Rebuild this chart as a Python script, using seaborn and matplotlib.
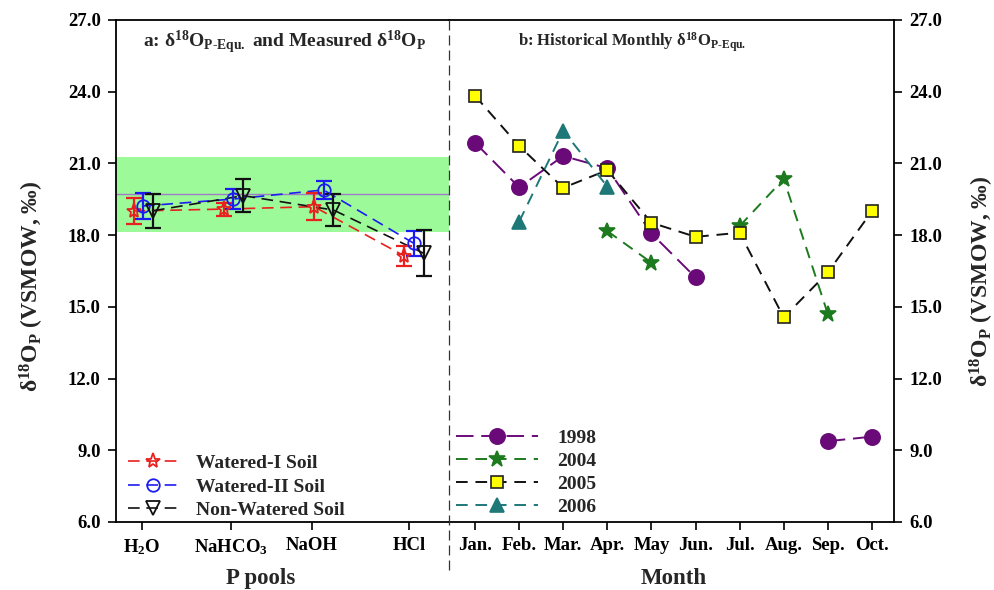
import numpy as np
import pandas as pd
import matplotlib
matplotlib.use("Agg")
import matplotlib.pyplot as plt
from matplotlib.lines import Line2D
import seaborn as sns

# ---------------- data ----------------
pools = ["H$_2$O", "NaHCO$_3$", "NaOH", "HCl"]
pool_pos = [1, 2, 3, 4]
pool_tick_pos = [0.99, 1.97, 2.87, 3.95]

w1_vals = [19.01, 19.09, 19.19, 17.13]
w1_err = [0.55, 0.27, 0.57, 0.43]
w2_vals = [19.22, 19.51, 19.89, 17.66]
w2_err = [0.53, 0.40, 0.36, 0.52]
nw_vals = [19.02, 19.65, 19.05, 17.24]
nw_err = [0.71, 0.69, 0.68, 0.96]

band_low, band_high = 18.13, 21.25
band_mid = 19.72

months = ["Jan.", "Feb.", "Mar.", "Apr.", "May", "Jun.", "Jul.", "Aug.", "Sep.", "Oct."]
month_pos = list(range(1, 11))
y1998 = [21.87, 20.00, 21.31, 20.80, 18.07, 16.23, np.nan, np.nan, 9.38, 9.57]
y2004 = [np.nan, np.nan, np.nan, 18.17, 16.85, np.nan, 18.38, 20.35, 14.70, np.nan]
y2005 = [23.83, 21.73, 19.98, 20.72, 18.52, 17.93, 18.10, 14.56, 16.44, 19.00]
y2006 = [np.nan, 18.56, 22.37, 20.03, np.nan, np.nan, np.nan, np.nan, np.nan, np.nan]

yticks = [6, 9, 12, 15, 18, 21, 24, 27]

# ---------------- style ----------------
sns.set_theme(style="ticks")
plt.rcParams["font.family"] = ["Liberation Serif", "DejaVu Serif"]
plt.rcParams["font.weight"] = "bold"
plt.rcParams["mathtext.fontset"] = "custom"
plt.rcParams["mathtext.rm"] = "Liberation Serif:bold"
plt.rcParams["mathtext.it"] = "Liberation Serif:bold"
plt.rcParams["mathtext.bf"] = "Liberation Serif:bold"
plt.rcParams["mathtext.default"] = "rm"

fig = plt.figure(figsize=(9.94, 5.90), dpi=100)
ax1 = fig.add_axes([116 / 994, 68 / 590, 333 / 994, 502 / 590])
ax2 = fig.add_axes([449 / 994, 68 / 590, 445 / 994, 502 / 590])

tick_fs = 13.5
lab_fs = 16.5
ylab_fs = 17
leg_fs = 14

# ---------------- panel a ----------------
ax1.axhspan(band_low, band_high, color="#9cfa98", zorder=0, lw=0)
ax1.axhline(band_mid, color="#a07cc8", lw=1.0, zorder=1)

series_a = [
    ("Watered-I Soil", w1_vals, w1_err, -0.105, "#e8201e", "*", 11),
    ("Watered-II Soil", w2_vals, w2_err, 0.0, "#1c1cf0", "o", 9),
    ("Non-Watered Soil", nw_vals, nw_err, 0.11, "#111111", "v", 10),
]
handles_a = []
for name, vals, errs, off, col, mk, ms in series_a:
    xs = [p + off for p in pool_pos]
    df = pd.DataFrame({"x": xs, "y": vals})
    sns.lineplot(data=df, x="x", y="y", ax=ax1, color=col, lw=1.2, sort=False,
                 estimator=None, linestyle=(0, (7, 4)), zorder=3)
    ax1.errorbar(xs, vals, yerr=errs, fmt="none", ecolor=col, elinewidth=1.6,
                 capsize=6, capthick=1.6, zorder=4)
    ax1.plot(xs, vals, linestyle="none", marker=mk, ms=ms, mfc="none",
             mec=col, mew=1.3, zorder=5)
    handles_a.append(Line2D([], [], color=col, lw=1.2, linestyle=(0, (7, 4)),
                            marker=mk, ms=ms, mfc="none", mec=col, mew=1.3,
                            label=name))

ax1.set_xlim(0.70, 4.39)
ax1.set_ylim(6, 27)
ax1.set_xticks(pool_tick_pos)
ax1.set_xticklabels(pools, fontsize=tick_fs, fontweight="bold")
ax1.set_yticks(yticks)
ax1.set_yticklabels([f"{v:.1f}" for v in yticks], fontsize=tick_fs, fontweight="bold")
ax1.set_xlabel("P pools", fontsize=lab_fs, fontweight="bold")
ax1.xaxis.set_label_coords(0.435, -0.092)
ax1.set_ylabel("δ$^{18}$O$_\\mathrm{P}$ (VSMOW, ‰)", fontsize=ylab_fs, fontweight="bold")
ax1.yaxis.set_label_coords(-0.21, 0.47)
ax1.spines["right"].set_visible(False)
for s in ["left", "bottom", "top"]:
    ax1.spines[s].set_linewidth(1.3)
    ax1.spines[s].set_color("black")
ax1.tick_params(axis="both", direction="out", length=6, width=1.2, colors="black", pad=5)
ax1.text(0.505, 0.955, "a: δ$^{18}$O$_{\\mathrm{P\\text{-}Equ.}}$ and Measured δ$^{18}$O$_\\mathrm{P}$",
         transform=ax1.transAxes, ha="center", va="center", fontsize=14, fontweight="bold")
leg1 = ax1.legend(handles=handles_a, loc="lower left", bbox_to_anchor=(0.036, 0.006),
                  frameon=False, fontsize=leg_fs, handlelength=2.6, handletextpad=0.9,
                  labelspacing=0.3, borderaxespad=0.0, borderpad=0.0)
for t in leg1.get_texts():
    t.set_fontweight("bold")

# ---------------- panel b ----------------
series_b = [
    ("1998", y1998, "#6a0a78", "o", 11, "#6a0a78", (0, (9, 4))),
    ("2004", y2004, "#1e7a1e", "*", 12, "#1e7a1e", (0, (6, 4))),
    ("2005", y2005, "#111111", "s", 9, "#ffff00", (0, (6, 4))),
    ("2006", y2006, "#1f7878", "^", 10, "#1f7878", (0, (6, 4))),
]
handles_b = []
for name, vals, col, mk, ms, fc, dash in series_b:
    v = np.array(vals, dtype=float)
    seg = np.cumsum(np.isnan(v))
    df = pd.DataFrame({"x": month_pos, "y": v, "seg": seg}).dropna()
    sns.lineplot(data=df, x="x", y="y", units="seg", estimator=None, ax=ax2,
                 color=col, lw=1.4, linestyle=dash, sort=False, zorder=3)
    ax2.plot(df["x"], df["y"], linestyle="none", marker=mk, ms=ms, mfc=fc,
             mec=col if mk != "s" else "#222222", mew=1.2, zorder=5)
    handles_b.append(Line2D([], [], color=col, lw=1.4, linestyle=dash, marker=mk,
                            ms=ms, mfc=fc, mec=col if mk != "s" else "#222222",
                            mew=1.2, label=name))

ax2.set_xlim(0.41, 10.5)
ax2.set_ylim(6, 27)
ax2.set_xticks(month_pos)
ax2.set_xticklabels(months, fontsize=tick_fs, fontweight="bold")
ax2.yaxis.tick_right()
ax2.yaxis.set_label_position("right")
ax2.set_yticks(yticks)
ax2.set_yticklabels([f"{v:.1f}" for v in yticks], fontsize=tick_fs, fontweight="bold")
ax2.set_xlabel("Month", fontsize=lab_fs, fontweight="bold")
ax2.xaxis.set_label_coords(0.505, -0.092)
ax2.set_ylabel("δ$^{18}$O$_\\mathrm{P}$ (VSMOW, ‰)", fontsize=ylab_fs, fontweight="bold",
               rotation=90)
ax2.yaxis.set_label_coords(1.165, 0.48)
ax2.spines["left"].set_visible(False)
for s in ["right", "bottom", "top"]:
    ax2.spines[s].set_linewidth(1.3)
    ax2.spines[s].set_color("black")
ax2.tick_params(axis="both", direction="out", length=6, width=1.2, colors="black", pad=5)
ax2.text(0.411, 0.955, "b: Historical Monthly δ$^{18}$O$_{\\mathrm{P\\text{-}Equ.}}$",
         transform=ax2.transAxes, ha="center", va="center", fontsize=12, fontweight="bold")
leg2 = ax2.legend(handles=handles_b, loc="lower left", bbox_to_anchor=(0.016, 0.012),
                  frameon=False, fontsize=leg_fs, handlelength=4.2, handletextpad=1.0,
                  labelspacing=0.28, borderaxespad=0.0, borderpad=0.0)
for t in leg2.get_texts():
    t.set_fontweight("bold")

# divider
fig.add_artist(Line2D([449 / 994, 449 / 994], [1 - 20 / 590, 1 - 575 / 590],
                      transform=fig.transFigure, color="#333333", lw=0.9,
                      linestyle=(0, (8, 4))))

fig.savefig("out.png", dpi=100)
